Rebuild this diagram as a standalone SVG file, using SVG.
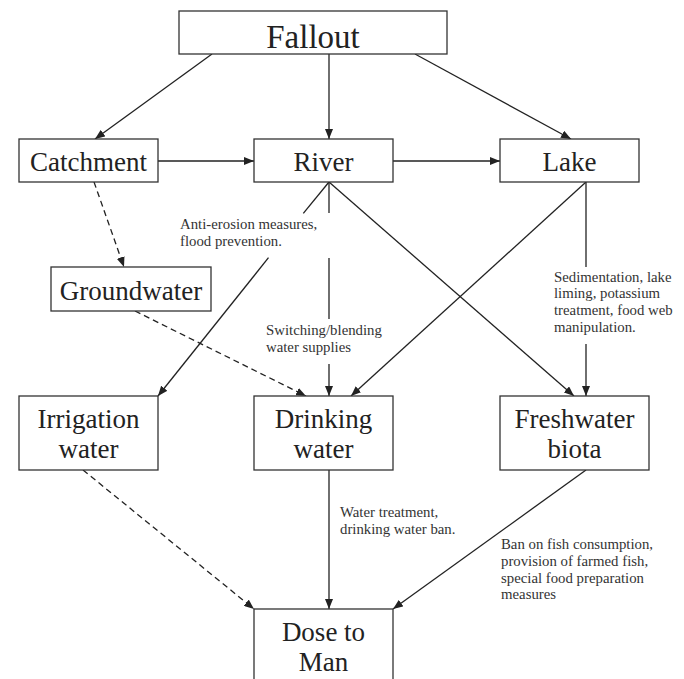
<svg xmlns="http://www.w3.org/2000/svg" width="684" height="679" viewBox="0 0 684 679">
<style>
.box{fill:#fff;stroke:#333;stroke-width:1.3}
.lbl{font-family:"Liberation Serif","Times New Roman",serif;font-size:27px;fill:#222;text-anchor:middle}
.big{font-size:33px}
.note{font-family:"Liberation Serif","Times New Roman",serif;font-size:14.8px;fill:#333}
.c{stroke:#222;stroke-width:1.3;fill:none}
.d{stroke-dasharray:6,4}
</style>
<defs>
<marker id="ah" markerUnits="userSpaceOnUse" markerWidth="11" markerHeight="8" refX="10" refY="4" orient="auto">
<path d="M0,0 L10,4 L0,8 z" fill="#222"/>
</marker>
</defs>
<rect width="684" height="679" fill="#fff"/>
<g id="connectors">
<line class="c" x1="212" y1="54" x2="95" y2="139" marker-end="url(#ah)"/>
<line class="c" x1="329" y1="54" x2="329" y2="139" marker-end="url(#ah)"/>
<line class="c" x1="415" y1="54" x2="571" y2="139" marker-end="url(#ah)"/>
<line class="c" x1="158" y1="161" x2="254" y2="161" marker-end="url(#ah)"/>
<line class="c" x1="393" y1="161" x2="500" y2="161" marker-end="url(#ah)"/>
<line class="c d" x1="94" y1="182" x2="124" y2="267" marker-end="url(#ah)"/>
<line class="c d" x1="135" y1="311" x2="306" y2="396" marker-end="url(#ah)"/>
<line class="c" x1="329" y1="182" x2="303.3" y2="213.3"/>
<line class="c" x1="268.5" y1="257.7" x2="158" y2="396" marker-end="url(#ah)"/>
<line class="c" x1="329" y1="182" x2="329" y2="213"/>
<line class="c" x1="329" y1="258" x2="329" y2="319"/>
<line class="c" x1="329" y1="364" x2="329" y2="396" marker-end="url(#ah)"/>
<line class="c" x1="329" y1="182" x2="574" y2="396" marker-end="url(#ah)"/>
<line class="c" x1="586" y1="182" x2="351" y2="396" marker-end="url(#ah)"/>
<line class="c" x1="586" y1="182" x2="586" y2="267"/>
<line class="c" x1="586" y1="344" x2="586" y2="396" marker-end="url(#ah)"/>
<line class="c d" x1="83" y1="470" x2="254" y2="609" marker-end="url(#ah)"/>
<line class="c" x1="329" y1="470" x2="329" y2="609" marker-end="url(#ah)"/>
<line class="c" x1="586" y1="470" x2="393" y2="609" marker-end="url(#ah)"/>
</g>
<g id="fallout"><rect class="box" x="179" y="11" width="268" height="43"/><text class="lbl big" x="313" y="48">Fallout</text></g>
<g id="catchment"><rect class="box" x="19" y="139" width="139" height="43"/><text class="lbl" x="88.5" y="171">Catchment</text></g>
<g id="river"><rect class="box" x="254" y="139" width="139" height="43"/><text class="lbl" x="323.5" y="171">River</text></g>
<g id="lake"><rect class="box" x="500" y="139" width="139" height="43"/><text class="lbl" x="569.5" y="171">Lake</text></g>
<g id="groundwater"><rect class="box" x="51" y="267" width="160" height="44"/><text class="lbl" x="131" y="299.5">Groundwater</text></g>
<g id="irrigation"><rect class="box" x="19" y="396" width="139" height="74"/><text class="lbl" x="88.5" y="427.5">Irrigation</text><text class="lbl" x="88.5" y="457.5">water</text></g>
<g id="drinking"><rect class="box" x="254" y="396" width="139" height="74"/><text class="lbl" x="323.5" y="427.5">Drinking</text><text class="lbl" x="323.5" y="457.5">water</text></g>
<g id="freshwater"><rect class="box" x="500" y="396" width="149" height="74"/><text class="lbl" x="574.5" y="427.5">Freshwater</text><text class="lbl" x="574.5" y="457.5">biota</text></g>
<g id="dose"><rect class="box" x="254" y="609" width="139" height="90"/><text class="lbl" x="323.5" y="640.5">Dose to</text><text class="lbl" x="323.5" y="670.5">Man</text></g>
<g id="notes">
<text class="note" x="180" y="229">Anti-erosion measures,</text>
<text class="note" x="180" y="245.5">flood prevention.</text>
<text class="note" x="266" y="335">Switching/blending</text>
<text class="note" x="266" y="351.5">water supplies</text>
<text class="note" x="554" y="281.7">Sedimentation, lake</text>
<text class="note" x="554" y="298.4">liming, potassium</text>
<text class="note" x="554" y="315.1">treatment, food web</text>
<text class="note" x="554" y="331.8">manipulation.</text>
<text class="note" x="340" y="517">Water treatment,</text>
<text class="note" x="340" y="533.5">drinking water ban.</text>
<text class="note" x="501" y="549.3">Ban on fish consumption,</text>
<text class="note" x="501" y="566">provision of farmed fish,</text>
<text class="note" x="501" y="582.7">special food preparation</text>
<text class="note" x="501" y="599.4">measures</text>
</g>
</svg>
